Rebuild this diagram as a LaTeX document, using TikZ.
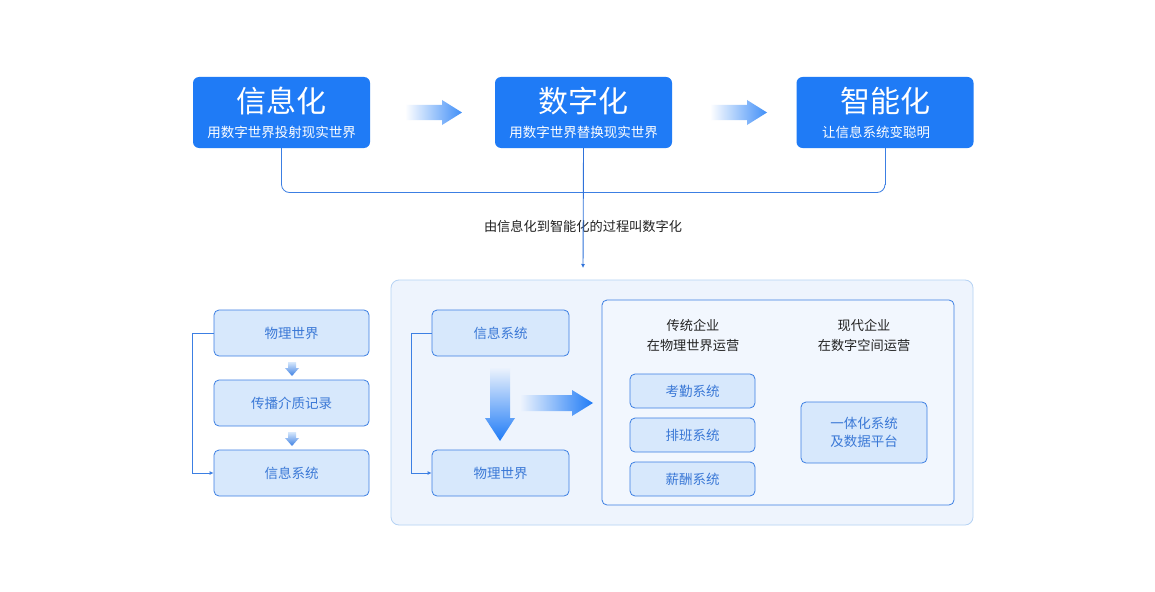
\documentclass[tikz,border=0pt]{standalone}
\usepackage{fontspec}
\setmainfont{Noto Sans CJK SC}
\usetikzlibrary{arrows.meta}
\definecolor{topblue}{HTML}{1F7BF6}
\definecolor{lineblue}{HTML}{3C7FE3}
\definecolor{darkline}{HTML}{2F72DA}
\definecolor{boxfill}{HTML}{D7E8FC}
\definecolor{boxtext}{HTML}{3A78D6}
\definecolor{panelfill}{HTML}{EEF4FD}
\definecolor{panelline}{HTML}{B5D2F4}
\definecolor{innerfill}{HTML}{F2F7FE}
\definecolor{darktext}{HTML}{222222}
\tikzset{
  topbox/.style={draw=none,fill=topblue,rounded corners=6pt,minimum width=177pt,minimum height=71pt},
  lightbox/.style={draw=lineblue,line width=0.8pt,fill=boxfill,rounded corners=5pt,text=boxtext,font=\fontsize{13.5}{16}\selectfont,align=center},
  conn/.style={draw=lineblue,line width=0.8pt},
  captext/.style={text=darktext,font=\fontsize{13.2}{20}\selectfont,align=center},
}
\begin{document}
\begin{tikzpicture}[x=1pt,y=-1pt]
\useasboundingbox (0,0) rectangle (1155,591);
\fill[white] (0,0) rectangle (1155,591);
% top boxes
\node[topbox] (info) at (281.5,112.5) {};
\node[topbox] (digi) at (583.5,112.5) {};
\node[topbox] (intel) at (885,112.5) {};
\node[text=white,font=\fontsize{30}{32}\selectfont] (infoT) at (281.5,101) {信息化};
\node[text=white,font=\fontsize{13.5}{16}\selectfont] (infoS) at (281.5,132) {用数字世界投射现实世界};
\node[text=white,font=\fontsize{30}{32}\selectfont] (digiT) at (583.5,101) {数字化};
\node[text=white,font=\fontsize{13.5}{16}\selectfont] (digiS) at (583.5,132) {用数字世界替换现实世界};
\node[text=white,font=\fontsize{30}{32}\selectfont] (intelT) at (885,101) {智能化};
\node[text=white,font=\fontsize{13.5}{16}\selectfont] (intelS) at (876,132) {让信息系统变聪明};
% gradient arrows top
\shade[left color=white,right color=topblue!85] (405,105) -- (442,105) -- (442,100) -- (462,112.5) -- (442,125) -- (442,120) -- (405,120) -- cycle;
\shade[left color=white,right color=topblue!85] (710,105) -- (747,105) -- (747,100) -- (767,112.5) -- (747,125) -- (747,120) -- (710,120) -- cycle;
% bracket
\draw[conn] (info.south) -- (281.5,184) [rounded corners=8pt] -- (281.5,192.5) -- (885,192.5) -- (885,184);
\draw[conn,rounded corners=0pt] (885,185) -- (intel.south);
% caption + vertical arrow
\node[captext] (caption) at (583,226) {由信息化到智能化的过程叫数字化};
\coordinate (panTop) at (583,268);
\draw[draw=darkline,line width=0.9pt,-{Latex[length=4pt,width=4pt]}] (digi.south) -- (panTop);
% big panel
\node[draw=panelline,line width=0.8pt,fill=panelfill,rounded corners=8pt,minimum width=582pt,minimum height=245pt] (panel) at (682,402.5) {};
% left column
\node[lightbox,minimum width=155pt,minimum height=46pt] (Lphys) at (291.5,333) {物理世界};
\node[lightbox,minimum width=155pt,minimum height=46pt] (Lmed) at (291.5,403) {传播介质记录};
\node[lightbox,minimum width=155pt,minimum height=46pt] (Linfo) at (291.5,473) {信息系统};
\shade[top color=boxfill,bottom color=lineblue] (288,362) -- (296,362) -- (296,368) -- (299,368) -- (292,376) -- (285,368) -- (288,368) -- cycle;
\shade[top color=boxfill,bottom color=lineblue] (288,432) -- (296,432) -- (296,438) -- (299,438) -- (292,446) -- (285,438) -- (288,438) -- cycle;
\draw[conn,-{Latex[length=4pt,width=4pt]}] (Lphys.west) -- (192,333) -- (192,473) -- (Linfo.west);
% panel left part
\node[lightbox,minimum width=137pt,minimum height=46pt] (Pinfo) at (500.5,333) {信息系统};
\node[lightbox,minimum width=137pt,minimum height=46pt] (Pphys) at (500.5,473) {物理世界};
\draw[conn,-{Latex[length=4pt,width=4pt]}] (Pinfo.west) -- (411,333) -- (411,473) -- (Pphys.west);
\shade[top color=panelfill,bottom color=topblue] (490,367) -- (510,367) -- (510,418) -- (515,418) -- (500,441) -- (485,418) -- (490,418) -- cycle;
\shade[left color=panelfill,right color=topblue] (520,395) -- (572,395) -- (572,390) -- (593,403) -- (572,416) -- (572,411) -- (520,411) -- cycle;
% inner rect
\node[draw=lineblue,line width=0.8pt,fill=innerfill,rounded corners=5pt,minimum width=352pt,minimum height=205pt] (inner) at (778,402.5) {};
\node[captext] (trad) at (693,335) {传统企业\\在物理世界运营};
\node[captext] (modern) at (864,335) {现代企业\\在数字空间运营};
\node[lightbox,minimum width=125pt,minimum height=34pt] (kq) at (692.5,391) {考勤系统};
\node[lightbox,minimum width=125pt,minimum height=34pt] (pb) at (692.5,435) {排班系统};
\node[lightbox,minimum width=125pt,minimum height=34pt] (xc) at (692.5,479) {薪酬系统};
\node[lightbox,minimum width=126pt,minimum height=61pt,font=\fontsize{13.5}{18}\selectfont] (yt) at (864,432.5) {一体化系统\\及数据平台};
\end{tikzpicture}
\end{document}
